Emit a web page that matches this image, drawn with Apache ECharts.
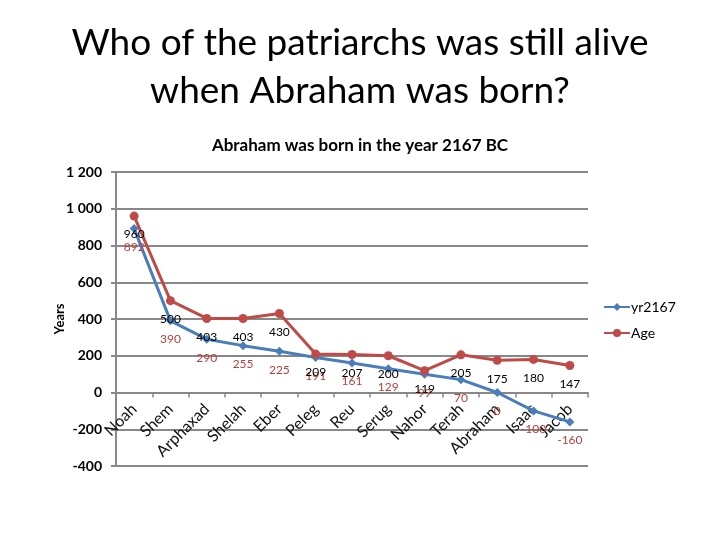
<!DOCTYPE html>
<html>
<head>
<meta charset="utf-8">
<script src="https://cdn.jsdelivr.net/npm/echarts@6/dist/echarts.min.js"></script>
<style>html,body{margin:0;padding:0;background:#fff}#c{width:720px;height:540px}</style>
</head>
<body>
<div id="c"></div>
<script>
const categories = ['Noah','Shem','Arphaxad','Shelah','Eber','Peleg','Reu','Serug','Nahor','Terah','Abraham','Isaac','Jacob'];
const yr2167 = [892, 390, 290, 255, 225, 191, 161, 129, 99, 70, 0, -100, -160];
const age = [960, 500, 403, 403, 430, 209, 207, 200, 119, 205, 175, 180, 147];
const yTicks = {min: -400, max: 1200, interval: 200};

const FONT = 'Lato, "Open Sans", sans-serif';
const chart = echarts.init(document.getElementById('c'), null, {renderer: 'canvas'});
chart.setOption({
  animation: false,
  backgroundColor: '#ffffff',
  title: [
    {text: 'Who of the patriarchs was still alive\nwhen Abraham was born?', left: 'center', top: 14,
     textStyle: {fontFamily: FONT, fontSize: 37, fontWeight: 'normal', color: '#000', lineHeight: 48}},
    {text: 'Abraham was born in the year 2167 BC', left: 'center', top: 132,
     textStyle: {fontFamily: FONT, fontSize: 17, fontWeight: 'bold', color: '#000'}}
  ],
  legend: {
    orient: 'vertical', left: 598, top: 295, itemGap: 12, itemWidth: 26, itemHeight: 10,
    textStyle: {fontFamily: FONT, fontSize: 14, color: '#000', padding: [0,0,0,-4]},
    data: ['yr2167', 'Age']
  },
  grid: {left: 116, right: 132, top: 172, bottom: 74, containLabel: false},
  xAxis: {
    type: 'category', data: categories, boundaryGap: true,
    axisLine: {onZero: false, lineStyle: {color: '#888', width: 2}},
    axisTick: {show: true, inside: false, length: 5, lineStyle: {color: '#888', width: 1.5}},
    axisLabel: {rotate: 45, fontFamily: FONT, fontSize: 16, color: '#111', margin: 14, interval: 0}
  },
  yAxis: {
    type: 'value', min: yTicks.min, max: yTicks.max, interval: yTicks.interval,
    name: 'Years', nameLocation: 'middle', nameGap: 50, nameRotate: 90, nameMoveOverlap: false,
    nameTextStyle: {fontFamily: FONT, fontSize: 13, fontWeight: 'bold', color: '#000'},
    axisLine: {show: true, lineStyle: {color: '#888', width: 2}},
    axisTick: {show: true, length: 5, lineStyle: {color: '#888', width: 2}},
    splitLine: {show: true, lineStyle: {color: '#888', width: 2}},
    axisLabel: {fontFamily: FONT, fontSize: 14, fontWeight: 'bold', color: '#000', margin: 14,
      formatter: v => { const s = String(Math.abs(v)); const t = s.length > 3 ? s.slice(0, s.length-3) + ' ' + s.slice(-3) : s; return (v < 0 ? '-' : '') + t; }}
  },
  series: [
    {name: 'yr2167', type: 'line', data: yr2167, symbol: 'diamond', symbolSize: 9,
     lineStyle: {color: '#4A7EBB', width: 3}, itemStyle: {color: '#4A7EBB'},
     label: {show: true, position: 'bottom', distance: 8, fontFamily: FONT, fontSize: 12, color: '#B8413D'}},
    {name: 'Age', type: 'line', data: age, symbol: 'circle', symbolSize: 9,
     lineStyle: {color: '#BE4B48', width: 3}, itemStyle: {color: '#BE4B48'},
     label: {show: true, position: 'bottom', distance: 8, fontFamily: FONT, fontSize: 12, color: '#000'}}
  ]
});
// place the category axis on the zero line using the library's own scale
const yZero = chart.convertToPixel({yAxisIndex: 0}, 0);
const yBottom = chart.convertToPixel({yAxisIndex: 0}, yTicks.min);
chart.setOption({xAxis: {offset: -(yBottom - yZero)}});
</script>
</body>
</html>
